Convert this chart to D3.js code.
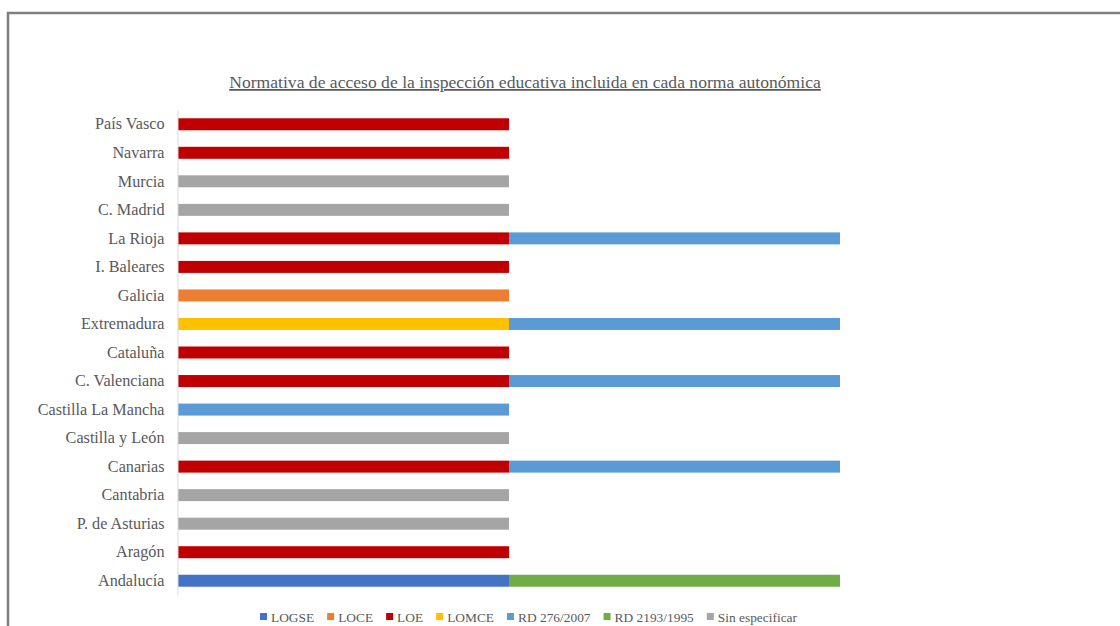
<!DOCTYPE html>
<html>
<head>
<meta charset="utf-8">
<script src="https://cdn.jsdelivr.net/npm/d3@7"></script>
<style>
  html, body { margin: 0; padding: 0; background: #fff; }
  svg { display: block; }
</style>
</head>
<body>
<svg id="chart" width="1120" height="626"></svg>
<script>
// ---- Data (bottom to top, as in the source chart) ----
const categories = ["Andalucía", "Aragón", "P. de Asturias", "Cantabria", "Canarias", "Castilla y León",
  "Castilla La Mancha", "C. Valenciana", "Cataluña", "Extremadura", "Galicia", "I. Baleares",
  "La Rioja", "C. Madrid", "Murcia", "Navarra", "País Vasco"];

const seriesNames = ["LOGSE", "LOCE", "LOE", "LOMCE", "RD 276/2007", "RD 2193/1995", "Sin especificar"];
const LOGSE         = [1,0,0,0,0,0,0,0,0,0,0,0,0,0,0,0,0];
const LOCE          = [0,0,0,0,0,0,0,0,0,0,1,0,0,0,0,0,0];
const LOE           = [0,1,0,0,1,0,0,1,1,0,0,1,1,0,0,1,1];
const LOMCE         = [0,0,0,0,0,0,0,0,0,1,0,0,0,0,0,0,0];
const RD276_2007    = [0,0,0,0,1,0,1,1,0,1,0,0,1,0,0,0,0];
const RD2193_1995   = [1,0,0,0,0,0,0,0,0,0,0,0,0,0,0,0,0];
const SinEspecificar= [0,0,1,1,0,1,0,0,0,0,0,0,0,1,1,0,0];
const seriesValues = [LOGSE, LOCE, LOE, LOMCE, RD276_2007, RD2193_1995, SinEspecificar];
const seriesColors = ["#4472C4", "#ED7D31", "#C00000", "#FFC000", "#5B9BD5", "#70AD47", "#A5A5A5"];
const titleText = "Normativa de acceso de la inspección educativa incluida en cada norma autonómica";

// ---- Build table ----
const rows = categories.map((c, i) => {
  const r = { category: c };
  seriesNames.forEach((s, k) => { r[s] = seriesValues[k][i]; });
  return r;
});
const stacked = d3.stack().keys(seriesNames)(rows);

const svg = d3.select("#chart");
const font = "'Liberation Serif', 'Times New Roman', serif";
const textColor = "#595959";

// Frame border
svg.append("path")
  .attr("d", "M8,626 V13 H1120")
  .attr("fill", "none")
  .attr("stroke", "#7f7f7f")
  .attr("stroke-width", 2.5);

// Scales
const x = d3.scaleLinear().domain([0, 2]).range([178, 840]);
const y = d3.scaleBand()
  .domain(categories.slice().reverse())
  .range([110, 595])
  .paddingInner(0.58)
  .paddingOuter(0.29);

// Title
svg.append("text")
  .attr("x", 525).attr("y", 88)
  .attr("text-anchor", "middle")
  .attr("font-family", font)
  .attr("font-size", 17.6)
  .attr("fill", textColor)
  .attr("text-decoration", "underline")
  .text(titleText);

// Bars
svg.append("g").selectAll("g")
  .data(stacked)
  .join("g")
  .attr("fill", (d, i) => seriesColors[i])
  .selectAll("rect")
  .data(d => d.filter(p => p[1] - p[0] > 0))
  .join("rect")
  .attr("x", p => x(p[0]))
  .attr("width", p => x(p[1]) - x(p[0]))
  .attr("y", p => y(p.data.category))
  .attr("height", y.bandwidth());

// Y axis
const yAxis = svg.append("g")
  .attr("transform", "translate(177.5,0)")
  .call(d3.axisLeft(y).tickSize(0).tickPadding(13).tickSizeOuter(0));
yAxis.select(".domain").attr("stroke", "#d9d9d9");
yAxis.selectAll("text")
  .attr("font-family", font)
  .attr("font-size", 16.2)
  .attr("fill", textColor);

// Legend
const legend = svg.append("g");
const items = legend.selectAll("g").data(seriesNames).join("g");
items.append("rect")
  .attr("width", 7).attr("height", 7)
  .attr("y", 613)
  .attr("fill", (d, i) => seriesColors[i]);
items.append("text")
  .attr("y", 621.5)
  .attr("font-family", font)
  .attr("font-size", 13.4)
  .attr("fill", textColor)
  .text(d => d);
let cx = 0;
const gap = 13;
items.each(function() {
  const g = d3.select(this);
  const w = 11 + g.select("text").node().getComputedTextLength();
  g.select("rect").attr("x", cx);
  g.select("text").attr("x", cx + 11);
  cx += w + gap;
});
const total = cx - gap;
legend.attr("transform", `translate(${528.5 - total / 2},0)`);
</script>
</body>
</html>
